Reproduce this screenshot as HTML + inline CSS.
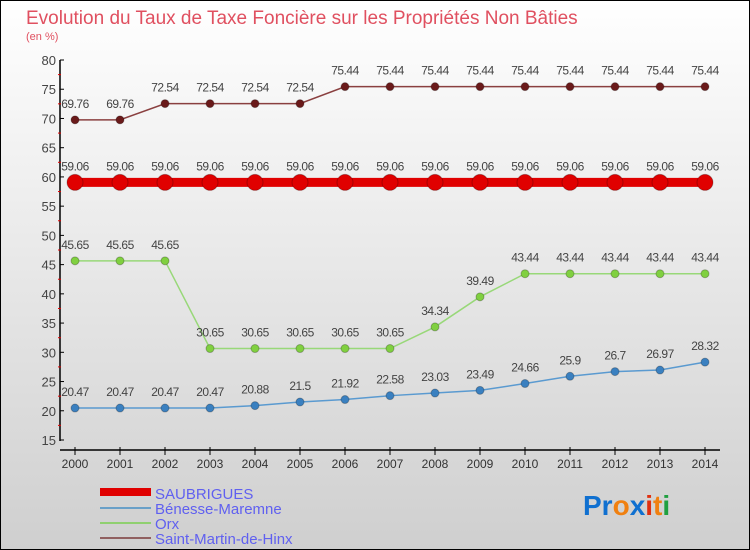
<!DOCTYPE html>
<html><head><meta charset="utf-8"><style>
body{margin:0}
#c{width:750px;height:550px;position:relative;overflow:hidden;font-family:"Liberation Sans",sans-serif}
svg text{font-family:"Liberation Sans",sans-serif}
</style></head><body>
<div id="c">
<svg id="s" width="750" height="550" xmlns="http://www.w3.org/2000/svg">
<defs><linearGradient id="bg" x1="0" y1="0" x2="0" y2="1"><stop offset="0" stop-color="#ffffff"/><stop offset="1" stop-color="#cfcfcf"/></linearGradient></defs>
<rect x="0.5" y="0.5" width="749" height="549" fill="url(#bg)" stroke="#000"/>
<text x="26" y="24" font-size="19" fill="#e05060">Evolution du Taux de Taxe Foncière sur les Propriétés Non Bâties</text>
<text x="26" y="40" font-size="11" fill="#e05060">(en %)</text>
<g id="axes"></g><g id="series"></g>
<g>
<rect x="100" y="488" width="51" height="8" fill="#e00000"/>
<text x="155" y="499" font-size="15" fill="#6060f0">SAUBRIGUES</text>
<line x1="100" y1="508" x2="151" y2="508" stroke="#6aa0c8" stroke-width="2"/>
<text x="155" y="514" font-size="15" fill="#6060f0">Bénesse-Maremne</text>
<line x1="100" y1="523" x2="151" y2="523" stroke="#90d070" stroke-width="2"/>
<text x="155" y="529" font-size="15" fill="#6060f0">Orx</text>
<line x1="100" y1="538" x2="151" y2="538" stroke="#906060" stroke-width="2"/>
<text x="155" y="544" font-size="15" fill="#6060f0">Saint-Martin-de-Hinx</text>
</g>
<g font-size="28" font-family="Liberation Sans" font-weight="bold">
<text x="583" y="515"><tspan fill="#1070d0">Pr</tspan><tspan fill="#f08010">o</tspan><tspan fill="#1070d0">x</tspan><tspan fill="#e03010">i</tspan><tspan fill="#f08010">t</tspan><tspan fill="#20a040">i</tspan></text>
</g>
</svg></div>
<script>
const years=[2000,2001,2002,2003,2004,2005,2006,2007,2008,2009,2010,2011,2012,2013,2014];
const yTicks=[15,20,25,30,35,40,45,50,55,60,65,70,75,80];
const saubrigues=[59.06,59.06,59.06,59.06,59.06,59.06,59.06,59.06,59.06,59.06,59.06,59.06,59.06,59.06,59.06];
const benesse=[20.47,20.47,20.47,20.47,20.88,21.5,21.92,22.58,23.03,23.49,24.66,25.9,26.7,26.97,28.32];
const orx=[45.65,45.65,45.65,30.65,30.65,30.65,30.65,30.65,34.34,39.49,43.44,43.44,43.44,43.44,43.44];
const saintMartin=[69.76,69.76,72.54,72.54,72.54,72.54,75.44,75.44,75.44,75.44,75.44,75.44,75.44,75.44,75.44];
const NS="http://www.w3.org/2000/svg";
const xS=y=>75+(y-2000)*45;
const yS=v=>440-(v-15)*(380/65);
function mk(t,a,p){const e=document.createElementNS(NS,t);for(const k in a)e.setAttribute(k,a[k]);p.appendChild(e);return e;}
const ax=document.getElementById('axes');
let l=mk('line',{x1:60,y1:60,x2:60,y2:441,stroke:'#000','stroke-width':1.5},ax);


l=mk('line',{x1:60,y1:450,x2:720,y2:450,stroke:'#000','stroke-width':1.5},ax);


yTicks.forEach(v=>{const y=yS(v);
 mk('line',{x1:60,y1:y,x2:64,y2:y,stroke:'#000'},ax);
 if(v<80){const m=yS(v+2.5);mk('line',{x1:58,y1:m,x2:61,y2:m,stroke:'#e00000'},ax);}
 const t=mk('text',{x:56,y:y+5,'text-anchor':'end','font-size':13,fill:'#444'},ax);t.textContent=v;
 
 });
years.forEach(yr=>{const x=xS(yr);
 mk('line',{x1:x,y1:447,x2:x,y2:455,stroke:'#000'},ax);
 const t=mk('text',{x:x,y:468,'text-anchor':'middle','font-size':12,fill:'#333'},ax);t.textContent=yr;
 
 });
const sg=document.getElementById('series');
function draw(vals,name,color,dot,width,r){
 const g=mk('g',{},sg);
 
 
 const p=mk('polyline',{points:vals.map((v,i)=>xS(years[i])+','+yS(v)).join(' '),fill:'none',stroke:color,'stroke-width':width},g);
 vals.forEach((v,i)=>{const x=xS(years[i]),y=yS(v);
  const c=mk('circle',{cx:x,cy:y,r:r,fill:dot,stroke:'rgba(0,0,0,0.25)'},g);
  
  
  const t=mk('text',{x:x,y:y-12,'text-anchor':'middle','font-size':12,fill:'#444','letter-spacing':'-0.5'},g);t.textContent=v;
  
  });
}
draw(saintMartin,'saint-martin','#8a4040','#6a1a1a',1.5,4);
draw(saubrigues,'saubrigues','#e00000','#e00000',9,8);
draw(orx,'orx','#98d878','#80d040',1.5,4);
draw(benesse,'benesse','#5a9ad0','#3a80c0',1.5,4);
</script>
</body></html>
